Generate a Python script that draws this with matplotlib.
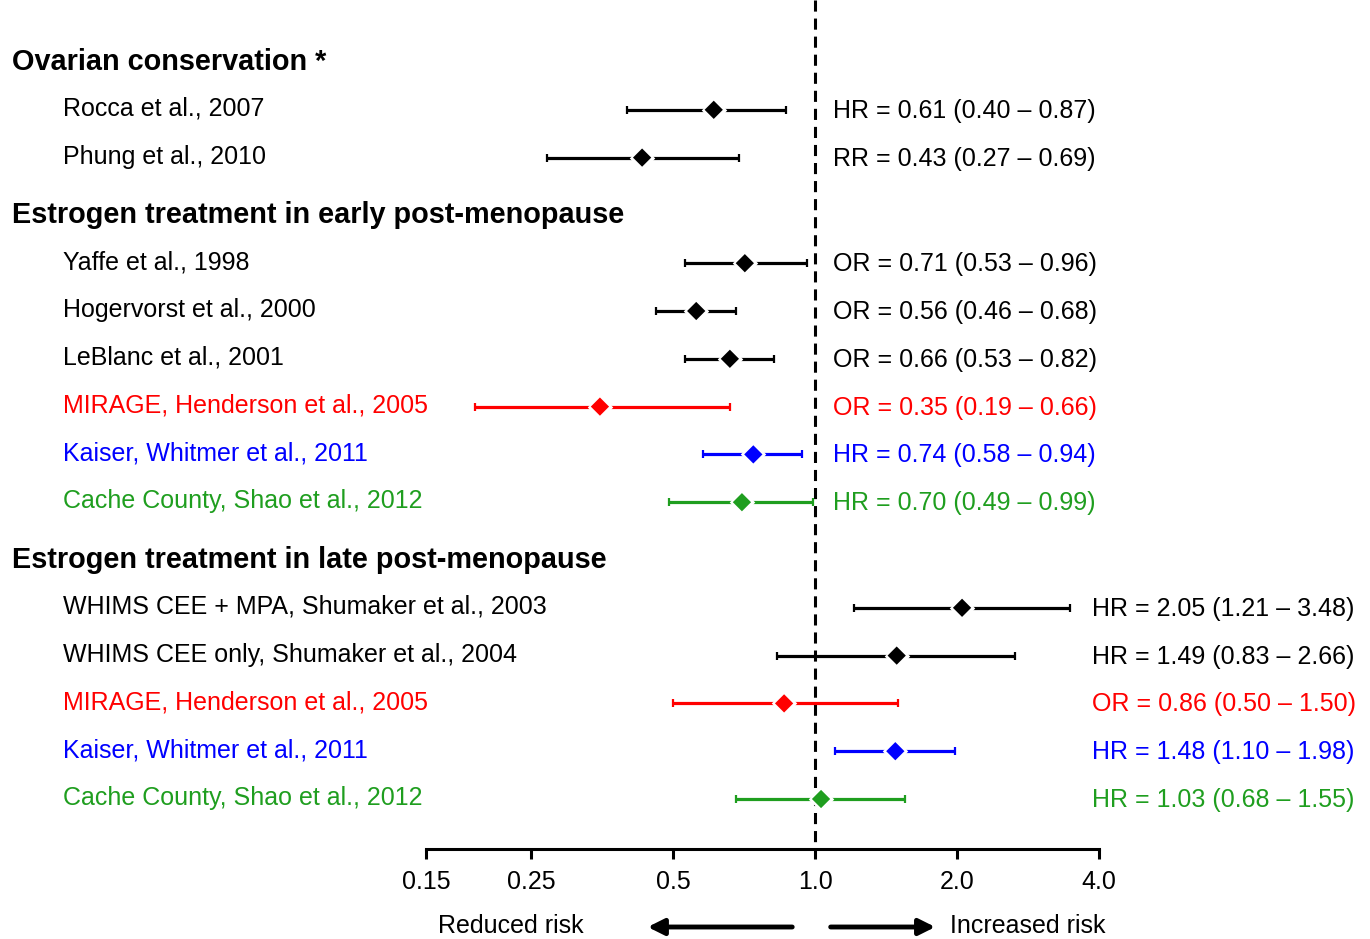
import numpy as np
import matplotlib.pyplot as plt
from matplotlib.transforms import blended_transform_factory

plt.rcParams['font.family'] = ['Liberation Sans', 'DejaVu Sans']

# ---- data ----
group_titles = ["Ovarian conservation *",
                "Estrogen treatment in early post-menopause",
                "Estrogen treatment in late post-menopause"]

studies = ["Rocca et al., 2007", "Phung et al., 2010",
           "Yaffe et al., 1998", "Hogervorst et al., 2000", "LeBlanc et al., 2001",
           "MIRAGE, Henderson et al., 2005", "Kaiser, Whitmer et al., 2011",
           "Cache County, Shao et al., 2012",
           "WHIMS CEE + MPA, Shumaker et al., 2003", "WHIMS CEE only, Shumaker et al., 2004",
           "MIRAGE, Henderson et al., 2005", "Kaiser, Whitmer et al., 2011",
           "Cache County, Shao et al., 2012"]
study_group = [0, 0, 1, 1, 1, 1, 1, 1, 2, 2, 2, 2, 2]
measure = ["HR", "RR", "OR", "OR", "OR", "OR", "HR", "HR", "HR", "HR", "OR", "HR", "HR"]
est = [0.61, 0.43, 0.71, 0.56, 0.66, 0.35, 0.74, 0.70, 2.05, 1.49, 0.86, 1.48, 1.03]
lo = [0.40, 0.27, 0.53, 0.46, 0.53, 0.19, 0.58, 0.49, 1.21, 0.83, 0.50, 1.10, 0.68]
hi = [0.87, 0.69, 0.96, 0.68, 0.82, 0.66, 0.94, 0.99, 3.48, 2.66, 1.50, 1.98, 1.55]
colors = ["black", "black", "black", "black", "black", "red", "blue", "#1f9e1f",
          "black", "black", "red", "blue", "#1f9e1f"]

ticks = [0.15, 0.25, 0.5, 1.0, 2.0, 4.0]
tick_labels = ["0.15", "0.25", "0.5", "1.0", "2.0", "4.0"]

# ---- layout (in pixel-like units, y grows downward) ----
W, H = 1370, 939
px_per_doubling = 142
x_one = 815
fig = plt.figure(figsize=(W / 100, H / 100), dpi=100)
ax = fig.add_axes([0, 0, 1, 1])
ax.set_xscale('log', base=2)
ax.set_xlim(2 ** (-x_one / px_per_doubling), 2 ** ((W - x_one) / px_per_doubling))
ax.set_ylim(H, 0)
ax.patch.set_alpha(0)

# rows: header then studies for each group
header_y = []
study_y = []
i = 0
for g in range(len(group_titles)):
    header_y.append(62 + 47.8 * i + 10 * g)
    i += 1
    for s in range(len(studies)):
        if study_group[s] == g:
            study_y.append(62 + 47.8 * i + 10 * g)
            i += 1

axis_y = 849
trans = blended_transform_factory(ax.transAxes, ax.transData)

# reference line
ax.plot([1.0, 1.0], [0, axis_y], color='black', lw=2.2,
        linestyle=(0, (8.0 / 2.2, 5.0 / 2.2)), zorder=1)

est_a = np.array(est)
xerr = np.array([est_a - np.array(lo), np.array(hi) - est_a])
for k in range(len(est)):
    ax.errorbar(est[k], study_y[k], xerr=xerr[:, k:k + 1], fmt='none',
                ecolor=colors[k], elinewidth=2.3, capsize=3, capthick=1.6, zorder=2)
ax.scatter(est, study_y, marker='D', s=13 ** 2, color='white', zorder=3, linewidths=0)
ax.scatter(est, study_y, marker='D', s=9.3 ** 2, c=colors, zorder=4, linewidths=0)

# text
for g, t in enumerate(group_titles):
    ax.text(12 / W, header_y[g], t, transform=trans, fontsize=20.8,
            fontweight='bold', va='center', ha='left')

eff_x = [833, 833, 1092]
for k, s in enumerate(studies):
    ax.text(63 / W, study_y[k] - 1, s, transform=trans, fontsize=18,
            color=colors[k], va='center', ha='left')
    lab = f"{measure[k]} = {est[k]:.2f} ({lo[k]:.2f} \u2013 {hi[k]:.2f})"
    ax.text(eff_x[study_group[k]] / W, study_y[k] + 1, lab, transform=trans,
            fontsize=18, color=colors[k], va='center', ha='left')

# bottom axis
for side in ['top', 'left', 'right']:
    ax.spines[side].set_visible(False)
ax.spines['bottom'].set_position(('data', axis_y))
ax.spines['bottom'].set_bounds(ticks[0], ticks[-1])
ax.spines['bottom'].set_linewidth(2.2)
ax.set_xticks(ticks)
ax.set_xticklabels(tick_labels)
ax.xaxis.set_minor_locator(plt.NullLocator())
ax.tick_params(axis='x', direction='out', length=7, width=2.2, labelsize=18, pad=8)
ax.set_yticks([])

# risk arrows
ax.annotate('', xy=(0.436, 927), xytext=(0.907, 927),
            arrowprops=dict(arrowstyle='-|>', lw=3.5, color='black', mutation_scale=24))
ax.annotate('', xy=(1.823, 927), xytext=(1.065, 927),
            arrowprops=dict(arrowstyle='-|>', lw=3.5, color='black', mutation_scale=24))
ax.text(0.226, 926, "Reduced risk", fontsize=18, ha='center', va='center')
ax.text(1.93, 926, "Increased risk", fontsize=18, ha='left', va='center')

fig.savefig('out.png', dpi=100)
